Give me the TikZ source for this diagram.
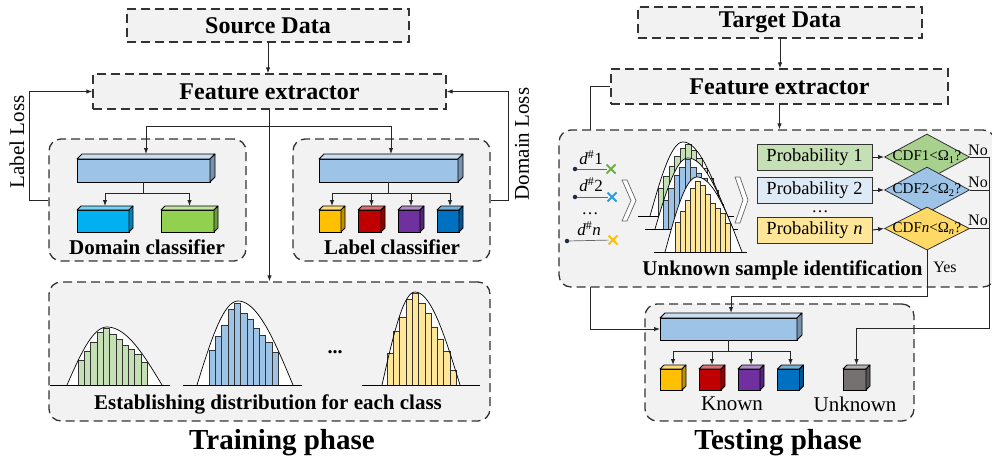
\documentclass[tikz,border=0pt]{standalone}
\usepackage{fontspec}
\setmainfont{Liberation Serif}
\usetikzlibrary{arrows.meta,calc,shapes.geometric,shapes.misc}

\definecolor{panel}{HTML}{F2F2F2}
\definecolor{edge}{HTML}{333333}
\definecolor{barblue}{HTML}{9DC3E6}
\definecolor{cyanc}{HTML}{00B0F0}
\definecolor{limec}{HTML}{92D050}
\definecolor{ambc}{HTML}{FFC000}
\definecolor{redc}{HTML}{C00000}
\definecolor{purc}{HTML}{7030A0}
\definecolor{bluec}{HTML}{0070C0}
\definecolor{grayc}{HTML}{767171}
\definecolor{hgreen}{HTML}{C5E0B4}
\definecolor{hblue}{HTML}{9DC3E6}
\definecolor{hyellow}{HTML}{FFE699}
\definecolor{pblue}{HTML}{DEEBF7}
\definecolor{dgreen}{HTML}{A9D18E}
\definecolor{dyellow}{HTML}{FFD966}
\definecolor{xgreen}{HTML}{70AD47}
\definecolor{xblue}{HTML}{2E9BDA}
\definecolor{navy}{HTML}{1F2A44}

\newcommand\setfs[1]{\fontsize{#1}{#1}\selectfont}

% 3D block: name, centre x, centre y (front face), width, height, colour, depth
\newcommand\blockthreed[7]{%
  \node[draw=black, line width=0.8pt, fill=#6, minimum width=#4pt, minimum height=#5pt,
        inner sep=0pt, outer sep=0pt] (#1) at (#2,#3) {};
  \filldraw[fill=#6!55!white, draw=black, line width=0.8pt, line join=round]
    (#1.north west) -- ++(#7,-#7) -- ($(#1.north east)+(#7,-#7)$) -- (#1.north east) -- cycle;
  \filldraw[fill=#6!75!black, draw=black, line width=0.8pt, line join=round]
    (#1.north east) -- ++(#7,-#7) -- ($(#1.south east)+(#7,-#7)$) -- (#1.south east) -- cycle;
  \coordinate (#1-top) at ($(#1.north)+(#7/2,-#7)$);
}

% skewed bell curve over a histogram: peak x, baseline y, left and right
% half widths, peak height, first bar x, bar heights, bar colour
% (bar width taken from \histbarw)
\def\histbarw{6}
\newcommand\bellhist[8]{%
  \fill[white] plot[domain=-1:1, samples=51, smooth]
    ({#1+\x*((\x<0)*#3+(\x>=0)*#4)},{#2-#5*cos(90*\x)}) -- cycle;
  \foreach \h [count=\i from 0] in {#7}
    \draw[fill=#8, draw=black!80, line width=0.5pt] ({#6+\i*\histbarw},#2) rectangle ++(\histbarw,-\h);
  \draw[line width=0.7pt] plot[domain=-1:1, samples=51, smooth]
    ({#1+\x*((\x<0)*#3+(\x>=0)*#4)},{#2-#5*cos(90*\x)});
}

% open chevron: left x, top y, bottom y, width
\newcommand\chevronmark[4]{%
  \filldraw[fill=white, draw=black!60, line width=0.7pt]
    (#1,#2) -- ({#1+5},#2) -- ({#1+#4},{(#2+#3)/2}) -- ({#1+5},#3) -- (#1,#3)
    -- ({#1+#4-5},{(#2+#3)/2}) -- cycle;
}

\tikzset{
  dbox/.style={draw=edge, fill=panel, line width=1.3pt, dash pattern=on 9pt off 5pt, inner sep=0pt},
  grp/.style={dbox, rounded corners=12pt},
  arr/.style={line width=1pt, draw=black!85, -{Latex[length=6pt,width=4.5pt]}},
  conn/.style={line width=1pt, draw=black!85},
  probbox/.style={draw=edge, line width=0.8pt, minimum width=115pt, minimum height=26pt,
                  inner sep=0pt, font=\setfs{18.5}},
  decide/.style={diamond, draw=edge, line width=0.8pt, minimum width=85pt,
                 minimum height=46pt, inner sep=0pt},
  boldlbl/.style={font=\setfs{21}\bfseries, inner sep=0pt},
  title/.style={font=\setfs{29}\bfseries, inner sep=0pt},
}

\begin{document}
\begin{tikzpicture}[x=1pt, y=-1pt]
\useasboundingbox (0,0) rectangle (992,464);

% ================= training side =================
\node[dbox, minimum width=282pt, minimum height=33pt, font=\setfs{24}\bfseries] (src) at (268,25.5) {Source Data};
\node[dbox, minimum width=353pt, minimum height=35pt, font=\setfs{24}\bfseries] (fe1) at (269.5,91.5) {Feature extractor};

\node[grp, minimum width=197pt, minimum height=122pt] (dombox) at (147.5,200) {};
\node[grp, minimum width=197pt, minimum height=122pt] (labbox) at (391.5,200) {};
\node[grp, minimum width=441pt, minimum height=139pt] (distbox) at (269.5,351.5) {};

% domain classifier
\blockthreed{dbar}{143.5}{170.5}{133}{23}{barblue}{5}
\blockthreed{dc1}{103}{221}{52}{22}{cyanc}{4}
\blockthreed{dc2}{187.5}{221}{53}{22}{limec}{4}
\node[boldlbl] (domtxt) at (147,247) {Domain classifier};

% label classifier
\blockthreed{lbar}{388.5}{170.5}{139}{23}{barblue}{5}
\blockthreed{lc1}{330}{221}{22}{22}{ambc}{4}
\blockthreed{lc2}{369.5}{221}{23}{22}{redc}{4}
\blockthreed{lc3}{409}{221}{22}{22}{purc}{4}
\blockthreed{lc4}{448}{221}{22}{22}{bluec}{4}
\node[boldlbl] (labtxt) at (392,247) {Label classifier};

% class distributions
\def\histbarw{6.3}
\bellhist{107}{385}{40}{55}{58}{78}{25,34,43,53,57,51,46,40,36,31,23}{hgreen}
\draw[line width=0.8pt] (50,385) -- (170,385);
\bellhist{238}{385}{41}{55}{84}{209}{35,49,60,76,82,72,66,57,50,43,33}{hblue}
\draw[line width=0.8pt] (183,385) -- (302,385);
\bellhist{415}{385}{33}{45}{93}{387}{32,54,68,86,92,82,72,58,46,34,15}{hyellow}
\draw[line width=0.8pt] (362,385) -- (480,385);
\node[font=\setfs{20}\bfseries] (hdots) at (335,352) {...};
\node[boldlbl] (disttxt) at (268,404) {Establishing distribution for each class};

% training connectors
\draw[arr] (src.south) -- (src.south |- fe1.north);
\draw[arr] (fe1.south) -- (fe1.south |- distbox.north);
\coordinate (br1) at (269.5,126);
\draw[arr] (br1) -| (dbar-top);
\draw[arr] (br1) -| (lbar-top);
\coordinate (dsplit) at ($(dbar.south)+(0,11)$);
\draw[conn] (dbar.south) -- (dsplit);
\draw[arr] (dsplit) -| (dc1-top);
\draw[arr] (dsplit) -| (dc2-top);
\coordinate (lsplit) at ($(lbar.south)+(0,11)$);
\draw[conn] (lbar.south) -- (lsplit);
\draw[arr] (lsplit) -| (lc1-top);
\draw[arr] (lsplit) -| (lc2-top);
\draw[arr] (lsplit) -| (lc3-top);
\draw[arr] (lsplit) -| (lc4-top);
\draw[arr] (dombox.west) -- ++(-19,0) |- (fe1.west);
\draw[arr] (labbox.east) -- ++(18,0) |- (fe1.east);
\node[font=\setfs{21}, rotate=90] (lloss) at (17,142) {Label Loss};
\node[font=\setfs{21}, rotate=90] (dloss) at (522,144) {Domain Loss};

\node[title] (trainttl) at (282,443) {Training phase};

% ================= testing side =================
\node[dbox, minimum width=284pt, minimum height=31pt, font=\setfs{24}\bfseries] (tgt) at (780,22.5) {Target Data};
\node[dbox, minimum width=337pt, minimum height=35pt, font=\setfs{24}\bfseries] (fe2) at (779.5,86.5) {Feature extractor};

\node[grp, minimum width=269pt, minimum height=117pt] (testbox) at (779.5,362.5) {};
\blockthreed{tbar}{728.5}{329}{137}{22}{barblue}{5}

% feature path bypassing the identification stage
\draw[arr] (fe2.west) -- ++(-20,0) |- (tbar.west);

\node[grp, minimum width=436pt, minimum height=157pt] (ubox) at (777,208.5) {};

% samples
\node[circle, fill=navy, inner sep=0pt, minimum size=4.5pt] (s1) at (575,169) {};
\node[circle, fill=navy, inner sep=0pt, minimum size=4.5pt] (s2) at (575,197) {};
\node[circle, fill=navy, inner sep=0pt, minimum size=4.5pt] (s3) at (567,241) {};
\node[cross out, draw=xgreen, line width=2pt, minimum size=7pt, inner sep=0pt] (x1) at (611,169) {};
\node[cross out, draw=xblue, line width=2pt, minimum size=7pt, inner sep=0pt] (x2) at (612,197) {};
\node[cross out, draw=ambc, line width=2pt, minimum size=7pt, inner sep=0pt] (x3) at (613,240) {};
\draw[black!60, line width=0.7pt] (s1) -- (x1);
\draw[black!60, line width=0.7pt] (s2) -- (x2);
\draw[black!60, line width=0.7pt] (s3) -- (x3);
\node[font=\setfs{17}] (d1) at (591,158) {\textit{d}\textsuperscript{\#}1};
\node[font=\setfs{17}] (d2) at (591,185) {\textit{d}\textsuperscript{\#}2};
\node[font=\setfs{17}, anchor=base, inner sep=0pt] (ddots) at (590,214) {\dots};
\node[font=\setfs{17}] (dn) at (589,229) {\textit{d}\textsuperscript{\#}\textit{n}};

\chevronmark{622}{180}{221}{14}

% overlapping class distributions
\def\histbarw{5.5}
\bellhist{683}{216}{33}{44}{74}{658}{28,40,50,60,68,72,66,58,48,38,26}{hgreen}
\draw[line width=0.7pt] (638,216) -- (734,216);
\bellhist{688}{229}{33}{45}{71}{663}{29,41,54,62,70,62,56,51,41,36,25}{hblue}
\draw[line width=0.7pt] (645,229) -- (738,229);
\def\histbarw{5}
\bellhist{697}{252}{32}{45}{75}{675}{30,41,52,64,71,67,58,49,44,39,29}{hyellow}
\draw[line width=0.7pt] (654,252) -- (747,252);

\chevronmark{735}{177}{223}{13}

% per-class probabilities and thresholds
\node[probbox, fill=hgreen] (p1) at (814.5,157) {Probability 1};
\node[probbox, fill=pblue] (p2) at (814.5,190) {Probability 2};
\node[font=\setfs{17}, anchor=base, inner sep=0pt] (pdots) at (820,212) {\dots};
\node[probbox, fill=hyellow] (pn) at (814.5,230) {Probability \textit{n}};

\node[decide, fill=dgreen] (dm1) at (927,157) {};
\node[font=\setfs{15}, inner sep=0pt] (dt1) at (dm1.center) {CDF1<Ω\textsubscript{1}?};
\node[decide, fill=hblue] (dm2) at (927,190) {};
\node[font=\setfs{15}, inner sep=0pt] (dt2) at (dm2.center) {CDF2<Ω\textsubscript{2}?};
\node[decide, fill=dyellow, minimum height=43pt] (dmn) at (927,228.5) {};
\node[font=\setfs{15}, inner sep=0pt] (dtn) at (dmn.center) {CDF\textit{n}<Ω\textsubscript{\textit{n}}?};

\draw[arr] (p1.east) -- (dm1.west);
\draw[arr] (p2.east) -- (dm2.west);
\draw[arr] (pn.east) -- (dmn.west);

\node[boldlbl] (utxt) at (782.5,270) {Unknown sample identification};

% testing classifier
\blockthreed{tc1}{671}{379.5}{22}{21}{ambc}{4}
\blockthreed{tc2}{710}{379.5}{22}{21}{redc}{4}
\blockthreed{tc3}{749}{379.5}{22}{21}{purc}{4}
\blockthreed{tc4}{788.5}{379.5}{22}{21}{bluec}{4}
\blockthreed{tcu}{854.5}{379.5}{23}{21}{grayc}{4}
\node[font=\setfs{21}] (known) at (732,404) {Known};
\node[font=\setfs{21}] (unknown) at (855,404) {Unknown};

% testing connectors
\draw[arr] (tgt.south) -- (tgt.south |- fe2.north);
\draw[arr] (fe2.south) -- (fe2.south |- ubox.north);
\coordinate (tsplit) at ($(tbar.south)+(0,11)$);
\draw[conn] (tbar.south) -- (tsplit);
\draw[arr] (tsplit) -| (tc1-top);
\draw[arr] (tsplit) -| (tc2-top);
\draw[arr] (tsplit) -| (tc3-top);
\draw[arr] (tsplit) -| (tc4-top);

\coordinate (norail) at (989,157);
\coordinate (nobottom) at (989,328);
\draw[conn] (dm2.east) -- (dm2.east -| norail);
\draw[conn] (dmn.east) -- (dmn.east -| norail);
\draw[arr] (dm1.east) -- (norail) -- (nobottom) -| (tcu-top);
\draw[arr] (dmn.south) -- ++(0,46) -| (tbar-top);

\node[font=\setfs{16}] (no1) at (978,150) {No};
\node[font=\setfs{16}] (no2) at (978,182) {No};
\node[font=\setfs{16}] (no3) at (978,220) {No};
\node[font=\setfs{16}] (yes) at (945,267) {Yes};

\node[title] (testttl) at (778,443) {Testing phase};
\end{tikzpicture}
\end{document}
